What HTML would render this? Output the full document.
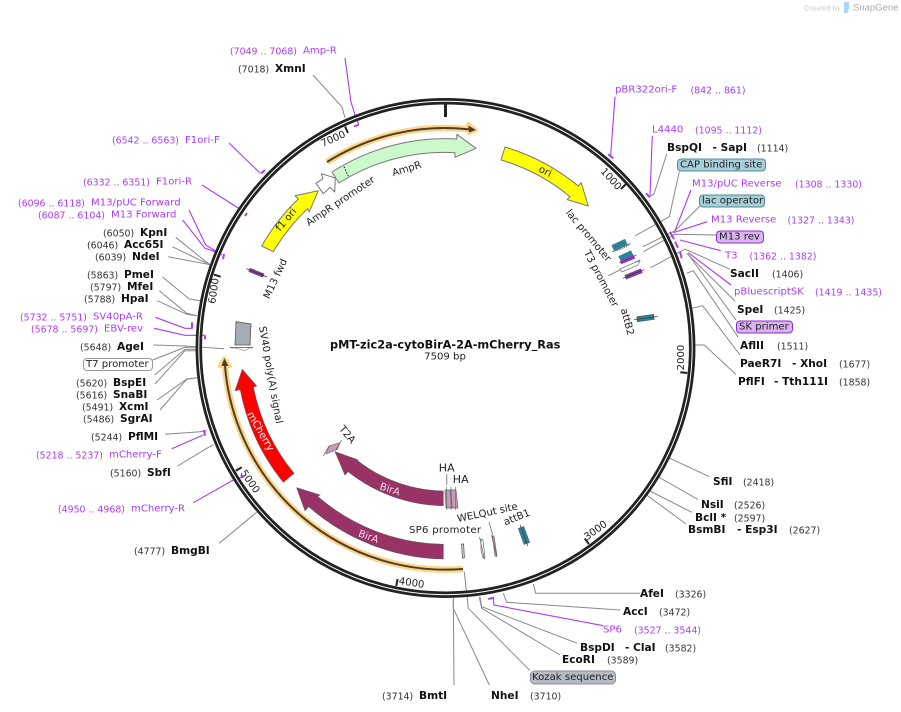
<!DOCTYPE html>
<html><head><meta charset="utf-8"><title>pMT-zic2a-cytoBirA-2A-mCherry_Ras</title>
<style>
html,body{margin:0;padding:0;background:#fff}
svg{display:block}
text{font-family:"DejaVu Sans","Liberation Sans",sans-serif;dominant-baseline:central}
.n{font-size:9.4px;fill:#333;transform:translateY(1px)}
.b{font-size:10.6px;font-weight:bold;fill:#111;transform:translateY(1px)}
.p{font-size:10.1px;fill:#a93cf5;transform:translateY(1px)}
.q{font-size:9.4px;fill:#a93cf5;transform:translateY(1px)}
.m{font-size:10.1px;fill:#222;text-anchor:middle}
.t{font-size:10.1px;fill:#222;transform:translateY(1px)}
.g{fill:none;stroke:#888;stroke-width:1}
.v{fill:none;stroke:#a93cf5;stroke-width:1.1}
.k{fill:none;stroke:#a93cf5;stroke-width:2}
.f{stroke:#777;stroke-width:1;stroke-linejoin:round}
</style></head><body>
<svg width="901" height="712" viewBox="0 0 901 712" xmlns="http://www.w3.org/2000/svg">
<rect width="901" height="712" fill="#fff"/>
<!-- logo -->
<text x="804" y="8" font-size="7.5" fill="#ccc" style="font-family:'Liberation Sans',sans-serif">Created by</text>
<path d="M844,2h5v5q0,4-2,6h-3z" fill="#a8d8f0"/>
<text x="853" y="8" font-size="9.5" fill="#aaa" style="font-family:'Liberation Sans',sans-serif">SnapGene</text>

<!-- leaders -->
<g class="g">
<polyline points="313,75 342,107 345,118"/>
<polyline points="175.7,237.3 208,263.3 213,266"/>
<polyline points="172.3,246.7 208,264 213,266"/>
<polyline points="168.3,256.7 208,264.3 213,266"/>
<polyline points="162.7,277.3 189.3,299 200,300.7"/>
<polyline points="159.3,290.7 186.7,313.3 197,315.7"/>
<polyline points="157.3,300.7 186.7,314.3 197,315.7"/>
<polyline points="153.3,345 185,346 224,348.7"/>
<polyline points="152.7,360 185,347.3 200,347.3"/>
<polyline points="154.7,375 185,349.3 197,349.3"/>
<polyline points="155,384 185,350.7 197,350.7"/>
<polyline points="157.3,400 186.7,379 197,377.7"/>
<polyline points="160,410 186.7,379.3 197,377.7"/>
<polyline points="165,434.3 200,431.7 206.7,430.7"/>
<polyline points="177.7,466 206.7,448.3 213.3,445"/>
<polyline points="219.3,543.3 256.7,512.3"/>
<polyline points="666.7,154 654,194 650,196"/>
<polyline points="679.3,171.7 669.3,216.7 635,236"/>
<polyline points="700,206 675,230.7 643,246.7"/>
<polyline points="716,235 675,234.3 643.3,251.7"/>
<polyline points="730,269.3 685,249 650.7,267.7"/>
<polyline points="735,301 686.7,253.3"/>
<polyline points="736,320 688,254"/>
<polyline points="738.3,337.3 693.3,270.7 686.7,273.3"/>
<polyline points="740,355 702.7,305.7 691.7,308.3"/>
<polyline points="735.7,374.3 704.3,345 693.3,345"/>
<polyline points="608.3,275.7 640,260"/>
<polyline points="709.3,476.7 670,458.3 664,455"/>
<polyline points="697.7,499.3 655,475"/>
<polyline points="691.7,512.3 648,490"/>
<polyline points="686,524 644,493"/>
<polyline points="640,593.3 535.7,593.3 533.3,584"/>
<polyline points="620,610 506.7,602.3 503.3,593.3"/>
<polyline points="577.3,643.3 481.7,606.7 480,597"/>
<polyline points="560,655 481.7,608.3 479.3,597"/>
<polyline points="530,670.7 468.3,608.3 464.3,571.7"/>
<polyline points="489.3,685 453.3,608.3 453.3,598"/>
<polyline points="454,685 453.3,598"/>
<polyline points="446.7,474 446.7,485"/>
<polyline points="489,522 492.7,535"/>
</g>
<g class="v">
<polyline points="345,58 351,102 356,118 358.5,124"/>
<polyline points="229,143 260,173"/>
<polyline points="202,185 243,211"/>
<polyline points="189,210 205.7,245 222,255"/>
<polyline points="182.7,220 205,248.3 220,253.3"/>
<polyline points="155.3,317.3 185,328.3 192.7,328.3"/>
<polyline points="154,328.3 185,335.3 205,335.3"/>
<polyline points="171.7,448.7 203.3,435"/>
<polyline points="193.3,502.7 233.3,480 243,476.7"/>
<polyline points="615,96.7 610.7,155"/>
<polyline points="652.3,136 650,195"/>
<polyline points="691,190 675,230.7"/>
<polyline points="707.3,221.7 673.3,232.7"/>
<polyline points="720.7,250.7 680,240"/>
<polyline points="731,285 688.3,252.7"/>
<polyline points="603.3,625.7 494,605 493.3,598.3"/>
</g>

<!-- ring -->
<circle cx="445.5" cy="348" r="246.7" fill="none" stroke="#222" stroke-width="6.5"/>
<circle cx="445.5" cy="348" r="246.7" fill="none" stroke="#fff" stroke-width="1"/>
<!-- ticks -->
<g stroke="#222" stroke-width="2">
<line x1="445.5" y1="103" x2="445.5" y2="117" stroke-width="3"/>
<line x1="626" y1="184" x2="621" y2="189"/>
<line x1="687.3" y1="373" x2="680.3" y2="372.3"/>
<line x1="588.9" y1="544.1" x2="584.8" y2="538.5"/>
<line x1="396.2" y1="585.9" x2="397.6" y2="579"/>
<line x1="235.8" y1="470.7" x2="241.8" y2="467.2"/>
<line x1="213.9" y1="274.6" x2="220.6" y2="276.7"/>
<line x1="345.1" y1="126.6" x2="348" y2="133"/>
</g>
<text class="m" x="610.5" y="179.5" transform="rotate(48 610.5 179.5)">1000</text>
<text class="m" x="681.5" y="357.5" transform="rotate(-90 681.5 357.5)">2000</text>
<text class="m" x="596" y="531" transform="rotate(-36 596 531)">3000</text>
<text class="m" x="411.5" y="583.5" transform="rotate(9 411.5 583.5)">4000</text>
<text class="m" x="249.5" y="482" transform="rotate(55 249.5 482)">5000</text>
<text class="m" x="214.5" y="291" transform="rotate(-82 214.5 291)">6000</text>
<text class="m" x="333.5" y="139.5" transform="rotate(-24 333.5 139.5)">7000</text>

<!-- primer marks -->
<g class="k">
<line x1="354" y1="126.5" x2="359" y2="124.5"/>
<line x1="261" y1="173.5" x2="265" y2="170"/>
<line x1="245" y1="216" x2="247" y2="213"/>
<line x1="224" y1="254" x2="223" y2="259"/>
<line x1="192" y1="322.3" x2="192" y2="328.3"/>
<line x1="205" y1="335.3" x2="205" y2="339.3"/>
<line x1="204" y1="430" x2="205" y2="435.7"/>
<line x1="241" y1="475" x2="243" y2="478"/>
<line x1="608.3" y1="154.3" x2="613.3" y2="158.3"/>
<line x1="646" y1="193.3" x2="650" y2="197.3"/>
<line x1="670" y1="232" x2="674" y2="239"/>
<line x1="675" y1="241.7" x2="678" y2="247.7"/>
<line x1="680" y1="251.7" x2="681.7" y2="258.3"/>
<line x1="488.3" y1="599" x2="494" y2="597.7"/>
</g>

<!-- orange tracks -->
<g fill="none" stroke-linejoin="round">
<path d="M327,162 A221.5 221.5 0 0 1 470,129.5" stroke="#fdd58a" stroke-width="6.5"/>
<path d="M468.3,124 L476,130 L469,133 Z" fill="#fdd58a" stroke="#fdd58a" stroke-width="4"/>
<path d="M463,569 A221.5 221.5 0 0 1 225,366" stroke="#fdd58a" stroke-width="6.5"/>
<path d="M220,366 L224.3,358.3 L230,366 Z" fill="#fdd58a" stroke="#fdd58a" stroke-width="4"/>
<path d="M327,162 A221.5 221.5 0 0 1 470,129.5" stroke="#4d3f28" stroke-width="2"/>
<path d="M468.3,125.5 L476,130 L469,132.5 Z" fill="#4d3f28" stroke="none"/>
<path d="M463,569 A221.5 221.5 0 0 1 225,366" stroke="#4d3f28" stroke-width="2"/>
<path d="M221.5,366 L224.3,358.3 L228.5,366 Z" fill="#4d3f28" stroke="none"/>
</g>

<!-- main features -->
<path class="f" fill="#ccf9cc" d="M332,172 A209.5 209.5 0 0 1 456.7,139 L456.9,134.3 L476,148.3 L455,157.3 L455,152.7 A196 196 0 0 0 339,183 Z"/>
<line x1="344" y1="166.7" x2="348.3" y2="176" stroke="#111" stroke-width="1" stroke-dasharray="1.5 1.5"/>
<path class="f" fill="#fff" d="M316,183.3 L323,178.7 L321.3,173.7 L335.3,178 L334.7,192 L330,187.3 L323.3,193.7 Z"/>
<path class="f" fill="#ffff00" d="M505,147 A209.5 209.5 0 0 1 578.3,186 L581.2,182.6 L588.3,206 L567.2,199.6 L569.8,196.5 A196 196 0 0 0 501,160 Z"/>
<path class="f" fill="#ffff00" d="M261.7,246 A209.5 209.5 0 0 1 298.2,199 L295,195.7 L318.3,190.7 L309.3,211.7 L307.7,208.6 A196 196 0 0 0 273.3,251.7 Z"/>
<path fill="#ff0000" stroke="#666" stroke-width=".6" d="M283.3,482.3 A209.5 209.5 0 0 1 240.2,389.7 L235,390.7 L242.3,369.3 L256.7,386 L253.4,387 A196 196 0 0 0 294,473.3 Z"/>
<path fill="#993366" stroke="#555" stroke-width=".6" d="M443.3,559 A211 211 0 0 1 308.7,506.6 L305,510.7 L296.7,487.7 L320,495 L317.5,496.4 A196.3 196.3 0 0 0 443.3,544.3 Z"/>
<path fill="#993366" stroke="#555" stroke-width=".6" d="M443.3,505.7 A157.7 157.7 0 0 1 347.9,471.5 L345,475 L335,451.7 L358.3,460 L356.8,460.1 A143 143 0 0 0 443.3,491 Z"/>

<!-- small features -->
<path d="M326,454 L329.3,445.7 L340,442.7 L337.3,449.3 Z" fill="#cc99b2" stroke="#777" stroke-width=".7"/>
<line x1="323.3" y1="456" x2="329" y2="446" stroke="#555" stroke-width=".7"/>
<line x1="336" y1="450" x2="341.7" y2="440" stroke="#555" stroke-width=".7"/>
<g fill="#c79ab5" stroke="#666" stroke-width=".7">
<path d="M445,490 L450,490 L452,508 L446,508 Z"/>
<path d="M451,490 L456,490 L458,508 L452,508 Z"/>
<line x1="446.7" y1="486.7" x2="446.7" y2="510"/>
<line x1="451" y1="486.7" x2="451" y2="510"/>
<line x1="455.7" y1="486.7" x2="455.7" y2="510"/>
<rect x="462" y="544" width="2" height="14" fill="#ddd" stroke="#444" transform="rotate(-3 463 551)"/>
<path d="M481,539 L483,540 L485,558 L483,558 L481,550 Z" fill="#fff"/>
<path d="M492.5,536 L494,536 L497,556 L495,556 Z"/>
</g>
<line x1="479.5" y1="537" x2="484.5" y2="559.5" stroke="#666" stroke-width=".7"/>
<line x1="491.5" y1="535" x2="497" y2="557" stroke="#666" stroke-width=".7"/>
<g transform="rotate(-20 524 535.6)"><rect x="521" y="527" width="6" height="17" fill="#2d8298" stroke="#555" stroke-width=".5"/><line x1="524" y1="524" x2="524" y2="547" stroke="#333" stroke-width=".7"/></g>

<g stroke-width=".7">
<g transform="rotate(-25 619 245)"><rect x="612" y="242" width="15" height="6" fill="#2d8298"/><line x1="610" y1="248.5" x2="630" y2="248.5" stroke="#333"/></g>
<line x1="617" y1="251" x2="630" y2="245" stroke="#333" stroke-dasharray="1 1"/>
<g transform="rotate(-25 626 256)"><rect x="619" y="253" width="14" height="6" fill="#2d8298"/><line x1="617" y1="259.5" x2="636" y2="259.5" stroke="#333"/></g>
<g transform="rotate(-22 627.5 259.5)"><rect x="620" y="258" width="15" height="3.5" fill="#8f2fc0"/></g>
<path d="M620,269 L636,262 L640,261 L638,265 L622,272 Z" fill="#fff" stroke="#777"/>
<g transform="rotate(-22 633.5 274)"><rect x="625" y="272" width="17" height="4" fill="#8f2fc0" stroke="#555"/><line x1="622" y1="274" x2="645" y2="274" stroke="#333"/></g>
<g transform="rotate(-8 646 318)"><rect x="637" y="315.5" width="17" height="5" fill="#2d8298" stroke="#555"/><line x1="634" y1="318" x2="658" y2="318" stroke="#333"/></g>
<g transform="rotate(22 256.5 272.5)"><rect x="249" y="271" width="15" height="3.5" fill="#8f2fc0" stroke="#555"/><line x1="245.5" y1="272.7" x2="268" y2="272.7" stroke="#333"/></g>
</g>
<path d="M236,321.7 L251,324 L250,345 L235,345 Z" fill="#a6acb4" stroke="#555" stroke-width=".8"/>
<line x1="230" y1="347.7" x2="253" y2="347.7" stroke="#666" stroke-width="1.2"/>
<path d="M235,348 L245,350.5 L250,348" fill="#fff" stroke="#888" stroke-width=".6"/>

<!-- feature labels -->
<text class="m" x="545" y="172" transform="rotate(27 545 172)">ori</text>
<text class="m" x="286.7" y="220" transform="rotate(-50 286.7 220)">f1 ori</text>
<text class="m" x="340.8" y="201.7" transform="rotate(-34 340.8 201.7)">AmpR promoter</text>
<text class="m" x="407" y="169.5" transform="rotate(-17 407 169.5)">AmpR</text>
<text class="m" x="588" y="236" transform="rotate(50 588 236)">lac promoter</text>
<text class="m" x="600.5" y="279" transform="rotate(62 600.5 279)">T3 promoter</text>
<text class="m" x="626.7" y="322" transform="rotate(75 626.7 322)">attB2</text>
<text class="m" x="276" y="279" transform="rotate(-65 276 279)">M13 fwd</text>
<text class="m" x="270" y="375" transform="rotate(80 270 375)">SV40 poly(A) signal</text>
<text class="m" x="260" y="431.7" transform="rotate(60 260 431.7)" style="fill:#fff">mCherry</text>
<text class="m" x="389.7" y="490" transform="rotate(18 389.7 490)" style="fill:#f5d5ea">BirA</text>
<text class="m" x="368.3" y="537.3" transform="rotate(20 368.3 537.3)" style="fill:#f5d5ea">BirA</text>
<text class="m" x="346.7" y="435" transform="rotate(50 346.7 435)">T2A</text>
<text class="m" x="446.7" y="468" style="font-size:11px">HA</text>
<text class="m" x="460.7" y="479.5" style="font-size:11px">HA</text>
<text class="m" x="445" y="530.5" textLength="72">SP6 promoter</text>
<text class="m" x="487.5" y="513.3" transform="rotate(-12 487.5 513.3)">WELQut site</text>
<text class="m" x="517" y="518" transform="rotate(-22 517 518)">attB1</text>

<!-- centre -->
<text x="330" y="345" font-size="11.3" font-weight="bold" fill="#111">pMT-zic2a-cytoBirA-2A-mCherry_Ras</text>
<text class="m" x="445" y="357">7509 bp</text>

<!-- left labels -->
<text class="q" x="230" y="51">(7049 .. 7068)</text><text class="p" x="303" y="50">Amp-R</text>
<text class="n" x="238" y="69">(7018)</text><text class="b" x="275" y="68">XmnI</text>
<text class="q" x="112" y="140">(6542 .. 6563)</text><text class="p" x="185" y="139.5">F1ori-F</text>
<text class="q" x="83" y="182">(6332 .. 6351)</text><text class="p" x="156" y="181">F1ori-R</text>
<text class="q" x="18" y="203">(6096 .. 6118)</text><text class="p" x="91" y="202">M13/pUC Forward</text>
<text class="q" x="38" y="215">(6087 .. 6104)</text><text class="p" x="111" y="214">M13 Forward</text>
<text class="n" x="103" y="233">(6050)</text><text class="b" x="140" y="232">KpnI</text>
<text class="n" x="87" y="245">(6046)</text><text class="b" x="124" y="244">Acc65I</text>
<text class="n" x="95" y="257">(6039)</text><text class="b" x="132" y="256">NdeI</text>
<text class="n" x="87" y="275">(5863)</text><text class="b" x="124" y="274">PmeI</text>
<text class="n" x="90" y="287">(5797)</text><text class="b" x="127" y="286">MfeI</text>
<text class="n" x="84" y="299">(5788)</text><text class="b" x="121" y="298">HpaI</text>
<text class="q" x="20" y="317">(5732 .. 5751)</text><text class="p" x="93" y="316">SV40pA-R</text>
<text class="q" x="31" y="329">(5678 .. 5697)</text><text class="p" x="104" y="328">EBV-rev</text>
<text class="n" x="80" y="347">(5648)</text><text class="b" x="117" y="346">AgeI</text>
<rect x="83.5" y="358.5" width="69" height="12" rx="3.5" fill="#fff" stroke="#999"/><text class="t" x="86" y="363.5">T7 promoter</text>
<text class="n" x="76" y="383">(5620)</text><text class="b" x="113" y="382">BspEI</text>
<text class="n" x="76" y="395">(5616)</text><text class="b" x="113" y="394">SnaBI</text>
<text class="n" x="82" y="407">(5491)</text><text class="b" x="119" y="406">XcmI</text>
<text class="n" x="83" y="419">(5486)</text><text class="b" x="120" y="418">SgrAI</text>
<text class="n" x="91" y="437">(5244)</text><text class="b" x="128" y="436">PflMI</text>
<text class="q" x="36" y="455">(5218 .. 5237)</text><text class="p" x="109" y="454">mCherry-F</text>
<text class="n" x="110" y="473">(5160)</text><text class="b" x="147" y="472">SbfI</text>
<text class="q" x="58" y="509">(4950 .. 4968)</text><text class="p" x="131" y="508">mCherry-R</text>
<text class="n" x="134" y="551">(4777)</text><text class="b" x="171" y="550">BmgBI</text>

<!-- right labels -->
<text class="p" x="615" y="89">pBR322ori-F</text><text class="q" x="690.5" y="90">(842 .. 861)</text>
<text class="p" x="652" y="129">L4440</text><text class="q" x="695" y="130">(1095 .. 1112)</text>
<text class="b" x="667" y="147">BspQI</text><text class="b" x="712.5" y="147">- SapI</text><text class="n" x="757" y="148">(1114)</text>
<rect x="677.5" y="159" width="88" height="12" rx="3.5" fill="#a6cfd8" stroke="#4c8a9a"/><text class="t" x="680" y="164">CAP binding site</text>
<text class="p" x="692" y="183">M13/pUC Reverse</text><text class="q" x="795" y="184">(1308 .. 1330)</text>
<rect x="699.5" y="195" width="65" height="12" rx="3.5" fill="#a6cfd8" stroke="#4c8a9a"/><text class="t" x="702" y="200">lac operator</text>
<text class="p" x="711" y="219">M13 Reverse</text><text class="q" x="787.5" y="220">(1327 .. 1343)</text>
<rect x="716.5" y="231" width="47" height="12" rx="3.5" fill="#d9b3ee" stroke="#8d2fd0"/><text class="t" x="719" y="236">M13 rev</text>
<text class="p" x="725" y="255">T3</text><text class="q" x="749.5" y="256">(1362 .. 1382)</text>
<text class="b" x="730" y="273">SacII</text><text class="n" x="772" y="274">(1406)</text>
<text class="p" x="734" y="291">pBluescriptSK</text><text class="q" x="815" y="292">(1419 .. 1435)</text>
<text class="b" x="737" y="309">SpeI</text><text class="n" x="774" y="310">(1425)</text>
<rect x="736.5" y="321" width="56" height="12" rx="3.5" fill="#d9b3ee" stroke="#8d2fd0"/><text class="t" x="739" y="326">SK primer</text>
<text class="b" x="740" y="345">AflII</text><text class="n" x="777" y="346">(1511)</text>
<text class="b" x="740" y="363">PaeR7I</text><text class="b" x="792" y="363">- XhoI</text><text class="n" x="839" y="364">(1677)</text>
<text class="b" x="738" y="381">PflFI</text><text class="b" x="774" y="381">- Tth111I</text><text class="n" x="839" y="382">(1858)</text>
<text class="b" x="713" y="481">SfiI</text><text class="n" x="743" y="482">(2418)</text>
<text class="b" x="701" y="504">NsiI</text><text class="n" x="734" y="505">(2526)</text>
<text class="b" x="695" y="517">BclI *</text><text class="n" x="734" y="518">(2597)</text>
<text class="b" x="688" y="529">BsmBI</text><text class="b" x="737" y="529">- Esp3I</text><text class="n" x="789" y="530">(2627)</text>
<text class="b" x="640" y="593">AfeI</text><text class="n" x="675" y="594">(3326)</text>
<text class="b" x="623" y="611">AccI</text><text class="n" x="659" y="612">(3472)</text>
<text class="p" x="603" y="629">SP6</text><text class="q" x="634" y="630">(3527 .. 3544)</text>
<text class="b" x="580" y="647">BspDI</text><text class="b" x="625" y="647">- ClaI</text><text class="n" x="665" y="648">(3582)</text>
<text class="b" x="562" y="659">EcoRI</text><text class="n" x="607" y="660">(3589)</text>
<rect x="530.5" y="671" width="85" height="13" rx="4" fill="#b6bcc4" stroke="#8a9098"/><text class="t" x="532" y="676.5">Kozak sequence</text>
<text class="b" x="491" y="695">NheI</text><text class="n" x="530" y="696">(3710)</text>
<text class="n" x="382" y="696">(3714)</text><text class="b" x="419" y="695">BmtI</text>
</svg>
</body></html>
